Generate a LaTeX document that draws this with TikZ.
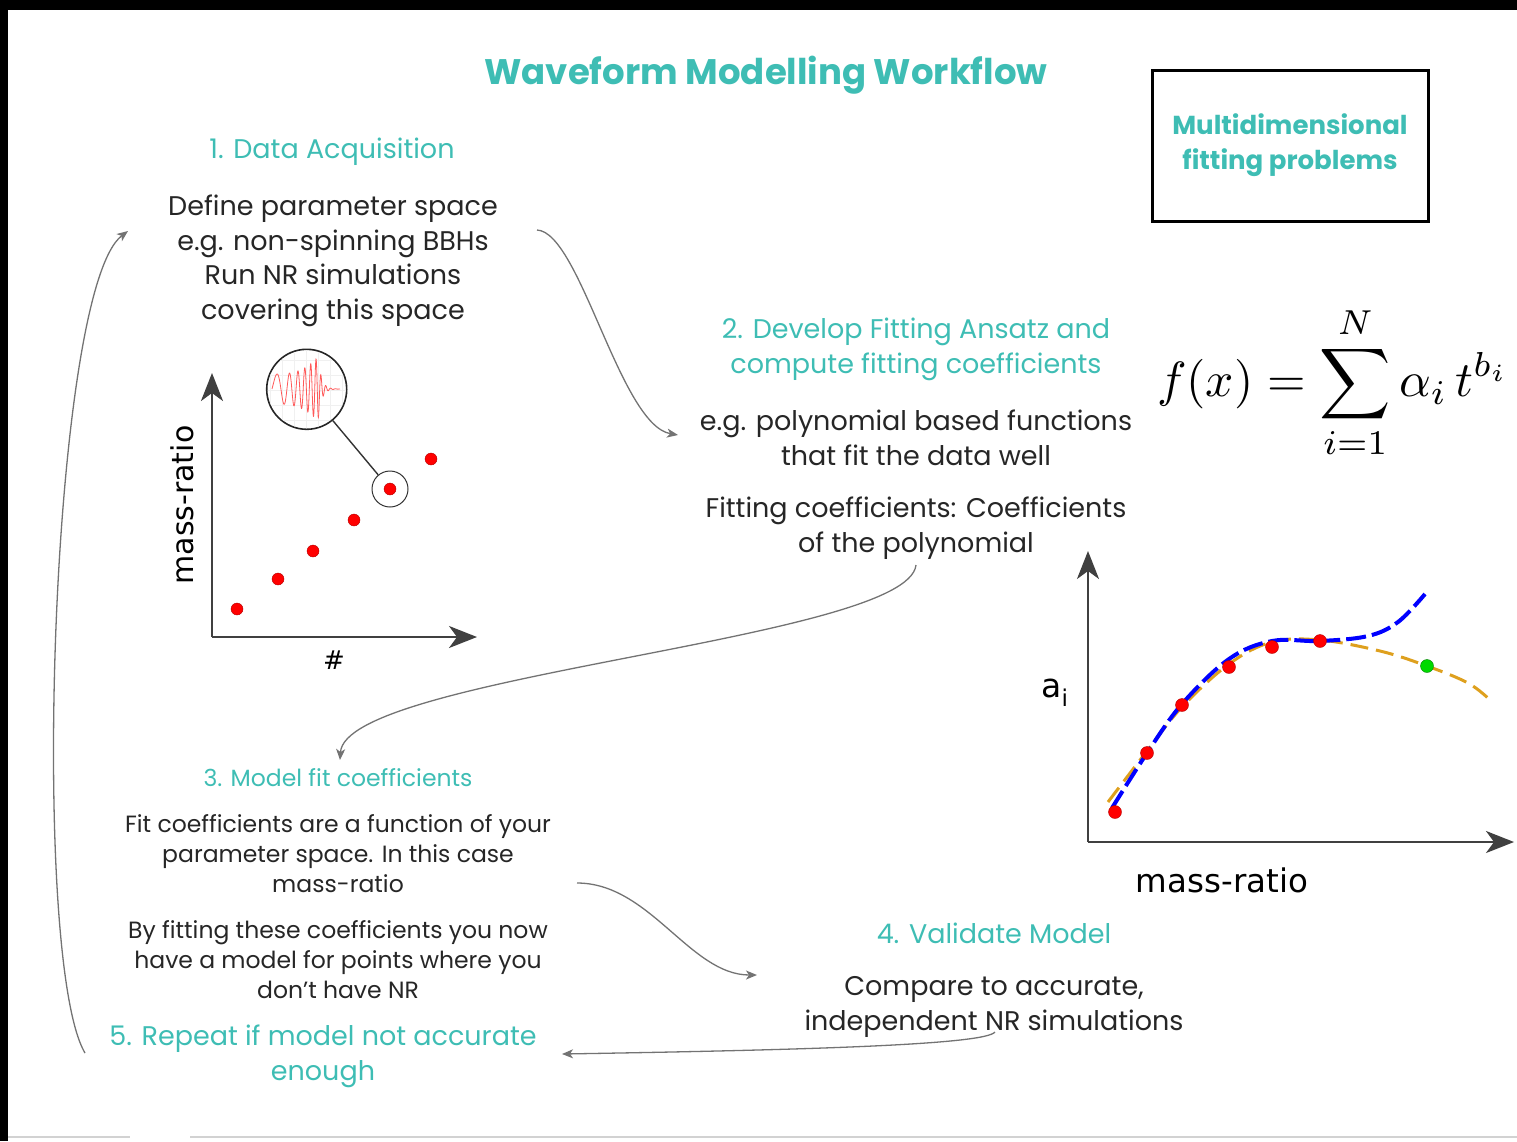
\documentclass[tikz,border=0pt]{standalone}
\usepackage{fontspec}
\setmainfont{Poppins}
\newfontfamily\plotfont{DejaVu Sans}
\usetikzlibrary{arrows.meta}
\definecolor{tealhead}{RGB}{62,189,180}
\definecolor{inkgray}{RGB}{115,115,115}
\definecolor{goldcurve}{RGB}{222,160,30}

\begin{document}
\begin{tikzpicture}[x=1pt, y=-1pt,
    head/.style={text=tealhead, align=center, font=\fontsize{27}{35}\selectfont},
    body/.style={text=black!85, align=center, font=\fontsize{27}{34.5}\selectfont},
    small/.style={text=black!85, align=center, font=\fontsize{23.5}{30}\selectfont},
    flow/.style={draw=inkgray, line width=1.3pt, -{Stealth[length=11pt,width=9pt,inset=3pt]}},
    axis/.style={draw=black!75, line width=2.2pt, -{Stealth[length=28pt,width=22pt,inset=8pt]}},
    nrdot/.style={circle, fill=red, draw=red!70!black, line width=0.4pt, inner sep=0pt, minimum size=12pt}]
    \useasboundingbox (0,0) rectangle (1517,1141);
    % Screen frame
    \fill[black] (0,0) rectangle (1517,10);
    \fill[black] (0,0) rectangle (8,1141);
    \draw[gray!35, line width=2pt] (8,1137) -- (130,1137) (190,1137) -- (1517,1137);
    % Title and box
    \node[text=tealhead, font=\fontsize{35.5}{40}\selectfont\bfseries] (title) at (766,75) {Waveform Modelling Workflow};
    \node[draw=black, line width=3pt, minimum width=276pt, minimum height=151pt, text=tealhead,
          align=center, font=\fontsize{26}{35}\selectfont\bfseries] (probbox) at (1290,145.5) {Multidimensional\\fitting problems};
    % Step 1
    \node[head] (h1) at (332,152) {1. Data Acquisition};
    \node[body] (b1) at (333,261) {Define parameter space\\e.g. non-spinning BBHs\\Run NR simulations\\covering this space};
    % Step 2
    \node[head] (h2) at (916,349) {2. Develop Fitting Ansatz and\\compute fitting coefficients};
    \node[body] (b2a) at (916,438) {e.g. polynomial based functions\\that fit the data well};
    \node[body] (b2b) at (916,528) {Fitting coefficients: Coefficients\\of the polynomial};
    \node (formula) at (1333,383) {\scalebox{4.95}{$\displaystyle f(x)=\sum_{i=1}^{N}\alpha_i\,t^{b_i}$}};
    % Step 3
    \node[head, font=\fontsize{23.5}{30}\selectfont] (h3) at (338,778) {3. Model fit coefficients};
    \node[small] (b3a) at (338,854) {Fit coefficients are a function of your\\parameter space. In this case\\mass-ratio};
    \node[small] (b3b) at (338,960) {By fitting these coefficients you now\\have a model for points where you\\don't have NR};
    % Step 4
    \node[head] (h4) at (994,933) {4. Validate Model};
    \node[body] (b4) at (994,1007) {Compare to accurate,\\independent NR simulations};
    % Step 5
    \node[head] (h5) at (323,1056) {5. Repeat if model not accurate\\enough};

    % Left plot: simulations in parameter space
    \coordinate (lo) at (212,637);
    \draw[axis] (lo) -- (212,373);
    \draw[axis] (lo) -- (477,637);
    \node[rotate=90, font=\plotfont\fontsize{30}{34}\selectfont] (ylab1) at (182,505) {mass-ratio};
    \node[font=\plotfont\fontsize{26}{30}\selectfont] (xlab1) at (334,660) {\#};
    \foreach \x/\y [count=\k] in {237/609, 278/579, 313/551, 354/520, 390/489, 431/459}
        \node[nrdot] (d\k) at (\x,\y) {};
    \node[circle, draw=black!80, line width=1pt, minimum size=36pt, inner sep=0pt] (pick) at (d5) {};
    \node[circle, draw=black!85, line width=1.6pt, minimum size=80pt, inner sep=0pt] (wave) at (306.7,389.3) {};
    \draw[black!80, line width=1.4pt] (wave) -- (pick);
    \begin{scope}
        \clip (306.7,389.3) circle (39pt);
        \foreach \g in {270,282,...,342} \draw[gray!12, line width=0.5pt] (\g,349) -- (\g,430);
        \foreach \g in {360,375,...,420} \draw[gray!12, line width=0.5pt] (266,\g) -- (347,\g);
        \draw[red!65, line width=0.8pt, domain=0:46, samples=300]
            plot ({272+\x},{389-(15+17*(\x/46)^3)*sin(360*(0.04*\x+0.0018*\x*\x))});
        \draw[red!65, line width=0.8pt, domain=0:22, samples=120]
            plot ({318+\x},{389-32*exp(-\x/3.5)*sin(360*(5.649+0.2056*\x))});
    \end{scope}

    % Right plot: fitted coefficient vs mass-ratio
    \coordinate (ro) at (1088,842);
    \draw[axis] (ro) -- (1088,551);
    \draw[axis] (ro) -- (1514,842);
    \node[font=\plotfont\fontsize{33}{38}\selectfont] (ylab2) at (1055,693) {a\textsubscript{i}};
    \node[font=\plotfont\fontsize{32.5}{38}\selectfont] (xlab2) at (1222,880) {mass-ratio};
    \draw[goldcurve, line width=3pt, dash pattern=on 18pt off 8pt] plot[smooth, tension=0.6] coordinates
        {(1108,802) (1147,751) (1182,707) (1229,664) (1272,642) (1320,640) (1380,651) (1427,666) (1468,683) (1490,700)};
    \draw[blue, line width=4pt, dash pattern=on 20pt off 6pt] plot[smooth, tension=0.6] coordinates
        {(1112,808) (1147,753) (1182,704) (1229,659) (1272,641) (1320,641) (1368,636) (1398,622) (1425,594)};
    \foreach \x/\y [count=\k] in {1115/812, 1147/753, 1182/705, 1229/667, 1272/647, 1320/641}
        \node[nrdot, minimum size=13pt] (f\k) at (\x,\y) {};
    \node[nrdot, minimum size=13pt, fill=green!85!black, draw=green!50!black] (test) at (1427,666) {};

    % Workflow arrows
    \coordinate (from1) at (537,230);
    \coordinate (to2) at (678,435);
    \coordinate (from2) at (916,565);
    \coordinate (to3) at (340,760);
    \coordinate (from3) at (577,883);
    \coordinate (to4) at (757,975);
    \coordinate (from4) at (995,1032);
    \coordinate (to5) at (562,1054);
    \coordinate (from5) at (85,1053);
    \coordinate (to1) at (128,231);
    \draw[flow] (from1) .. controls (580,232) and (620,425) .. (to2);
    \draw[flow] (from2) .. controls (908,640) and (345,675) .. (to3);
    \draw[flow] (from3) .. controls (650,883) and (690,975) .. (to4);
    \draw[flow] (from4) .. controls (985,1045) and (800,1050) .. (to5);
    \draw[flow] (from5) .. controls (30,960) and (50,290) .. (to1);
\end{tikzpicture}
\end{document}
